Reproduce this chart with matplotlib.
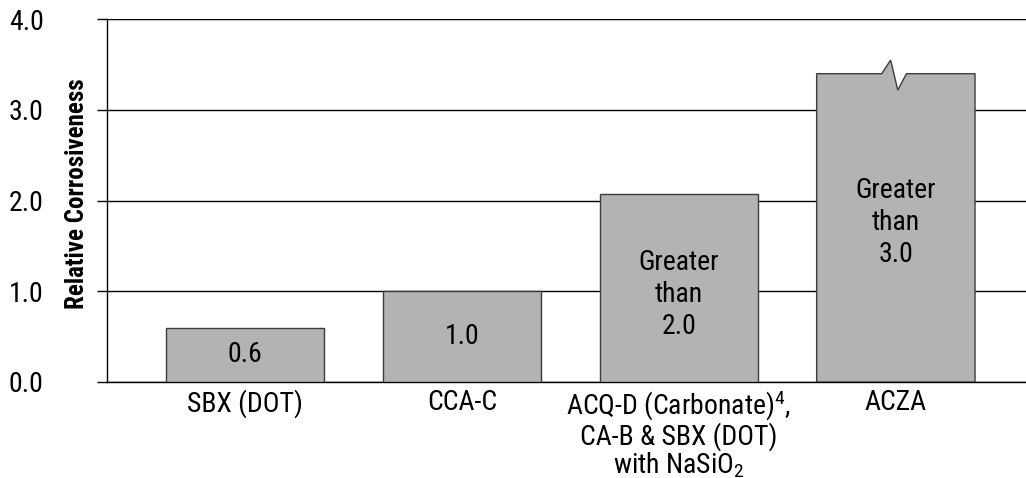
import matplotlib
matplotlib.use("Agg")
import matplotlib.pyplot as plt

plt.rcParams['font.family'] = ['Roboto Condensed', 'DejaVu Sans']
plt.rcParams['mathtext.fontset'] = 'custom'
plt.rcParams['mathtext.rm'] = 'Roboto Condensed'
plt.rcParams['mathtext.it'] = 'Roboto Condensed'

# data
categories = ["SBX (DOT)", "CCA-C",
              "ACQ-D (Carbonate)$^4$,\nCA-B & SBX (DOT)\nwith NaSiO$_2$",
              "ACZA"]
values = [0.6, 1.0, 2.07, 3.40]
bar_text = ["0.6", "1.0", "Greater\nthan\n2.0", "Greater\nthan\n3.0"]
broken = [False, False, False, True]
yticks = [0.0, 1.0, 2.0, 3.0, 4.0]

fill = '#b3b3b3'
edge = '#3c3c3c'
w = 0.73

fig = plt.figure(figsize=(10.26, 4.78), dpi=100)
ax = fig.add_axes([107 / 1026, 1 - 382 / 478, 1 - 107 / 1026, (382 - 19.3) / 478])

for i, v in enumerate(values):
    if not broken[i]:
        ax.bar(i, v, width=w, color=fill, edgecolor=edge, linewidth=1, zorder=3)
        ty = v / 2 if i < 2 else v / 2 - 0.07
    else:
        # bar with a break mark on top
        x0, x1 = i - w / 2, i + w / 2
        xs = [x0, x0, i - 0.065, i - 0.024, i + 0.009, i + 0.049, x1, x1]
        ys = [0, v, v, v + 0.15, v - 0.18, v, v, 0]
        ax.fill(xs, ys, facecolor=fill, edgecolor=edge, linewidth=1, zorder=3)
        ty = v / 2 + 0.06
    ax.text(i, ty, bar_text[i], ha='center', va='center',
            fontsize=20, linespacing=1.22, zorder=4)

ax.set_xlim(-0.636, 3.6)
ax.set_ylim(0, 4)
ax.set_yticks(yticks)
ax.set_yticklabels(["%.1f" % t for t in yticks], fontsize=20)
ax.set_xticks(range(len(categories)))
ax.set_xticklabels(categories, fontsize=20, linespacing=0.96)
ax.tick_params(axis='x', length=0, pad=5)
ax.tick_params(axis='y', length=7.5, width=1, pad=38)
ax.yaxis.grid(True, color='black', linewidth=1, zorder=0)
ax.set_axisbelow(True)

for s in ['top', 'right']:
    ax.spines[s].set_visible(False)
ax.spines['left'].set_linewidth(1)
ax.spines['bottom'].set_linewidth(1)

ax.set_ylabel("Relative Corrosiveness", fontsize=18, fontweight='bold', va='center')
ax.yaxis.set_label_coords(-0.033, 0.52)

fig.savefig("out.png", dpi=100)
